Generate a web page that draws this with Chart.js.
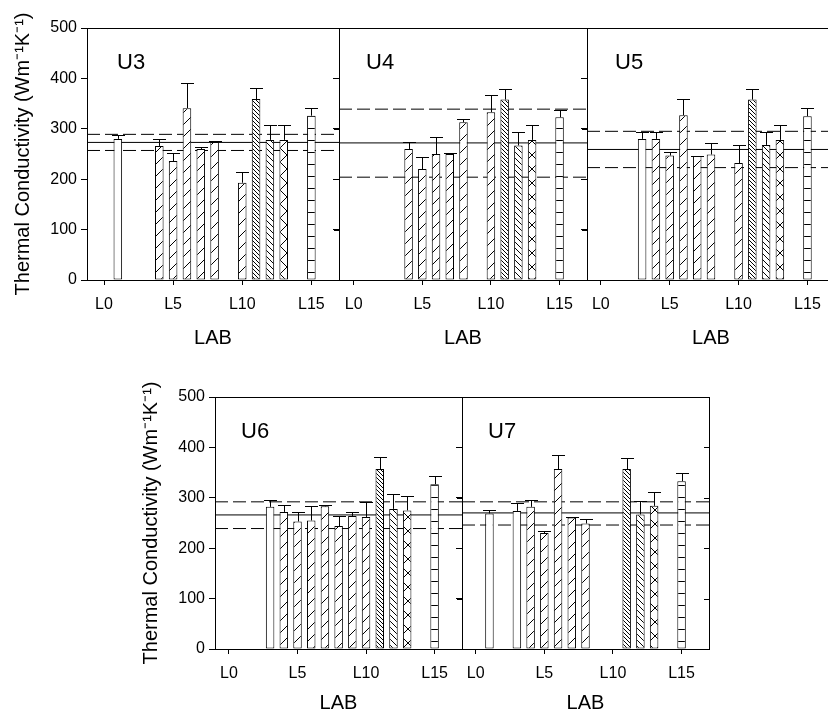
<!DOCTYPE html>
<html><head><meta charset="utf-8">
<script src="https://cdn.jsdelivr.net/npm/chart.js@4.4.0/dist/chart.umd.min.js"></script>
<style>
html,body{margin:0;padding:0;background:#fff;width:828px;height:716px;overflow:hidden;position:relative}
canvas{position:absolute}
</style></head><body>
<script>
// ---------------- data ----------------
const panelNames = ['U3', 'U4', 'U5', 'U6', 'U7'];
const xTickLabs = [0, 5, 10, 15];
const yTicks = [0, 100, 200, 300, 400, 500];

const u3Labs   = [1, 4, 5, 6, 7, 8, 10, 11, 12, 13, 15];
const u3Values = [280, 266, 236, 341, 260, 274, 193, 359, 278, 278, 326];
const u3Errors = [8, 13, 15, 49, 3, 2, 21, 21, 29, 29, 16];
const u3Lines  = [273, 257, 289];   // mean, mean - s, mean + s

const u4Labs   = [4, 5, 6, 7, 8, 10, 11, 12, 13, 15];
const u4Values = [260, 220, 250, 250, 313, 333, 358, 267, 278, 323];
const u4Errors = [14, 25, 33, 1, 7, 34, 21, 26, 29, 15];
const u4Lines  = [272, 204, 339];

const u5Labs   = [3, 4, 5, 6, 7, 8, 10, 11, 12, 13, 15];
const u5Values = [280, 280, 247, 327, 246, 249, 232, 358, 268, 278, 325];
const u5Errors = [13, 13, 6, 32, 1, 23, 36, 20, 25, 29, 16];
const u5Lines  = [259, 223, 295];

const u6Labs   = [3, 4, 5, 6, 7, 8, 9, 10, 11, 12, 13, 15];
const u6Values = [282, 272, 253, 255, 283, 244, 264, 262, 357, 278, 275, 327];
const u6Errors = [14, 14, 19, 29, 3, 20, 8, 30, 23, 29, 28, 16];
const u6Lines  = [266, 239, 292];

const u7Labs   = [1, 3, 4, 5, 6, 7, 8, 11, 12, 13, 15];
const u7Values = [269, 274, 282, 230, 357, 261, 249, 357, 267, 284, 333];
const u7Errors = [7, 15, 14, 4, 27, 1, 8, 21, 27, 28, 17];
const u7Lines  = [270, 246, 292];

const yTitle = 'Thermal Conductivity (Wm\u207B\u00B9K\u207B\u00B9)';
const xTitle = 'LAB';

// ---------------- styles ----------------
const FONT = "'Liberation Sans', Arial, Helvetica, sans-serif";

function tile(w, h, draw) {
  const c = document.createElement('canvas');
  c.width = w; c.height = h;
  const g = c.getContext('2d');
  g.fillStyle = '#fff'; g.fillRect(0, 0, w, h);
  g.strokeStyle = '#000'; g.lineWidth = 1;
  g.beginPath(); draw(g, w, h); g.stroke();
  return g.createPattern(c, 'repeat');
}
function fwd(g, s) { g.moveTo(0, s); g.lineTo(s, 0); g.moveTo(-1, 1); g.lineTo(1, -1); g.moveTo(s - 1, s + 1); g.lineTo(s + 1, s - 1); }
function bwd(g, s) { g.moveTo(0, 0); g.lineTo(s, s); g.moveTo(s - 1, -1); g.lineTo(s + 1, 1); g.moveTo(-1, s - 1); g.lineTo(1, s + 1); }
const patterns = {
  open: '#fff',
  slash: tile(12, 12, (g) => fwd(g, 12)),
  dense: tile(4, 4, (g) => bwd(g, 4)),
  back: tile(6, 6, (g) => bwd(g, 6)),
  cross: tile(14, 14, (g) => { fwd(g, 14); bwd(g, 14); }),
  horiz: tile(4, 12, (g) => { g.moveTo(0, 0.5); g.lineTo(4, 0.5); })
};
function fillFor(lab) {
  if (lab <= 3) return patterns.open;
  if (lab <= 10) return patterns.slash;
  if (lab === 11) return patterns.dense;
  if (lab === 12) return patterns.back;
  if (lab === 13) return patterns.cross;
  return patterns.horiz;
}

// ---------------- panels ----------------
const panels = [
  { labs: u3Labs, values: u3Values, errors: u3Errors, lines: u3Lines, area: { l: 87, t: 28, r: 339, b: 280 }, xMin: -1.23, showY: true, labPad: 2, nameDx: 30 },
  { labs: u4Labs, values: u4Values, errors: u4Errors, lines: u4Lines, area: { l: 339, t: 28, r: 587, b: 280 }, xMin: -1.07, showY: false, labPad: 2, nameDx: 27 },
  { labs: u5Labs, values: u5Values, errors: u5Errors, lines: u5Lines, area: { l: 587, t: 28, r: 835, b: 280 }, xMin: -1.0, showY: false, labPad: 2, nameDx: 28 },
  { labs: u6Labs, values: u6Values, errors: u6Errors, lines: u6Lines, area: { l: 215, t: 397, r: 462, b: 649 }, xMin: -1.02, showY: true, labPad: 6, nameDx: 26 },
  { labs: u7Labs, values: u7Values, errors: u7Errors, lines: u7Lines, area: { l: 462, t: 397, r: 709, b: 649 }, xMin: -1.0, showY: false, labPad: 6, nameDx: 26 }
];
const xMax = 17;

panels.forEach((p, k) => {
  const PL = p.showY ? 87 : 10, PT = 20, PR = 6, PB = 72;
  const a = p.area;
  const W = a.r - a.l + PL + PR, H = a.b - a.t + PT + PB;
  const cv = document.createElement('canvas');
  cv.width = W; cv.height = H;
  cv.style.left = (a.l - PL) + 'px'; cv.style.top = (a.t - PT) + 'px';
  cv.style.width = W + 'px'; cv.style.height = H + 'px';
  document.body.appendChild(cv);

  const lineDs = (y, dashed) => ({
    type: 'line', data: [{ x: p.xMin, y: y }, { x: xMax, y: y }],
    borderColor: '#000', borderWidth: 1, borderDash: dashed ? [13, 5] : [],
    pointRadius: 0, fill: false, order: 2, tension: 0
  });

  const decor = {
    id: 'decor' + k,
    afterDatasetsDraw(chart) {
      const ctx = chart.ctx, ca = chart.chartArea, ys = chart.scales.y;
      ctx.save();
      ctx.strokeStyle = '#000'; ctx.lineWidth = 1;
      // error bars (upper only)
      const meta = chart.getDatasetMeta(0);
      meta.data.forEach((el, i) => {
        const x = Math.round(el.x) + 0.5;
        const yTop = Math.round(ys.getPixelForValue(p.values[i] + p.errors[i])) + 0.5;
        ctx.beginPath();
        ctx.moveTo(x, el.y); ctx.lineTo(x, yTop);
        ctx.moveTo(x - 6.5, yTop); ctx.lineTo(x + 6.5, yTop);
        ctx.stroke();
      });
      // frame
      ctx.strokeRect(Math.round(ca.left) + 0.5, Math.round(ca.top) + 0.5, Math.round(ca.right - ca.left), Math.round(ca.bottom - ca.top));
      // inward ticks on the right edge
      yTicks.forEach(v => {
        const y = Math.round(ys.getPixelForValue(v)) + 0.5;
        ctx.beginPath(); ctx.moveTo(ca.right - 5, y); ctx.lineTo(ca.right, y); ctx.stroke();
      });
      // panel name
      ctx.fillStyle = '#000';
      ctx.font = '22px ' + FONT;
      ctx.textBaseline = 'alphabetic'; ctx.textAlign = 'left';
      ctx.fillText(panelNames[k], ca.left + p.nameDx, ca.top + 41);
      ctx.restore();
    }
  };

  new Chart(cv.getContext('2d'), {
    type: 'bar',
    data: {
      datasets: [
        {
          type: 'bar',
          data: p.labs.map((lab, i) => ({ x: lab, y: p.values[i] })),
          backgroundColor: p.labs.map(fillFor),
          borderColor: '#000', borderWidth: 1, borderSkipped: false,
          barPercentage: 0.62, categoryPercentage: 1, order: 1
        },
        lineDs(p.lines[0], false),
        lineDs(p.lines[1], true),
        lineDs(p.lines[2], true)
      ]
    },
    options: {
      responsive: false, animation: false, devicePixelRatio: 1,
      events: [],
      layout: { padding: { left: 0, top: PT, right: PR, bottom: 0 } },
      plugins: { legend: { display: false }, tooltip: { enabled: false }, title: { display: false } },
      scales: {
        x: {
          type: 'linear', min: p.xMin, max: xMax, offset: false,
          afterBuildTicks: s => { s.ticks = xTickLabs.map(v => ({ value: v })); },
          afterFit: s => { s.height = PB; },
          ticks: { callback: v => 'L' + v, font: { family: FONT, size: 16 }, color: '#000', padding: 10, maxRotation: 0, autoSkip: false },
          grid: { display: true, drawOnChartArea: false, drawTicks: true, tickLength: 5, color: '#000', offset: false },
          border: { display: true, color: '#000', width: 1 },
          title: { display: true, text: xTitle, font: { family: FONT, size: 20 }, color: '#000', padding: { top: 0, bottom: p.labPad } }
        },
        y: {
          min: 0, max: 500,
          afterBuildTicks: s => { s.ticks = yTicks.map(v => ({ value: v })); },
          afterFit: s => { s.width = PL; },
          ticks: { callback: v => p.showY ? String(v) : '', font: { family: FONT, size: 16 }, color: '#000', padding: 4 },
          grid: { display: true, drawOnChartArea: false, drawTicks: true, tickLength: 6, color: '#000' },
          border: { display: true, color: '#000', width: 1 },
          title: { display: p.showY, text: yTitle, font: { family: FONT, size: 20 }, color: '#000', padding: { top: 11, bottom: 0 } }
        }
      }
    },
    plugins: [decor]
  });
});
</script>
</body></html>
